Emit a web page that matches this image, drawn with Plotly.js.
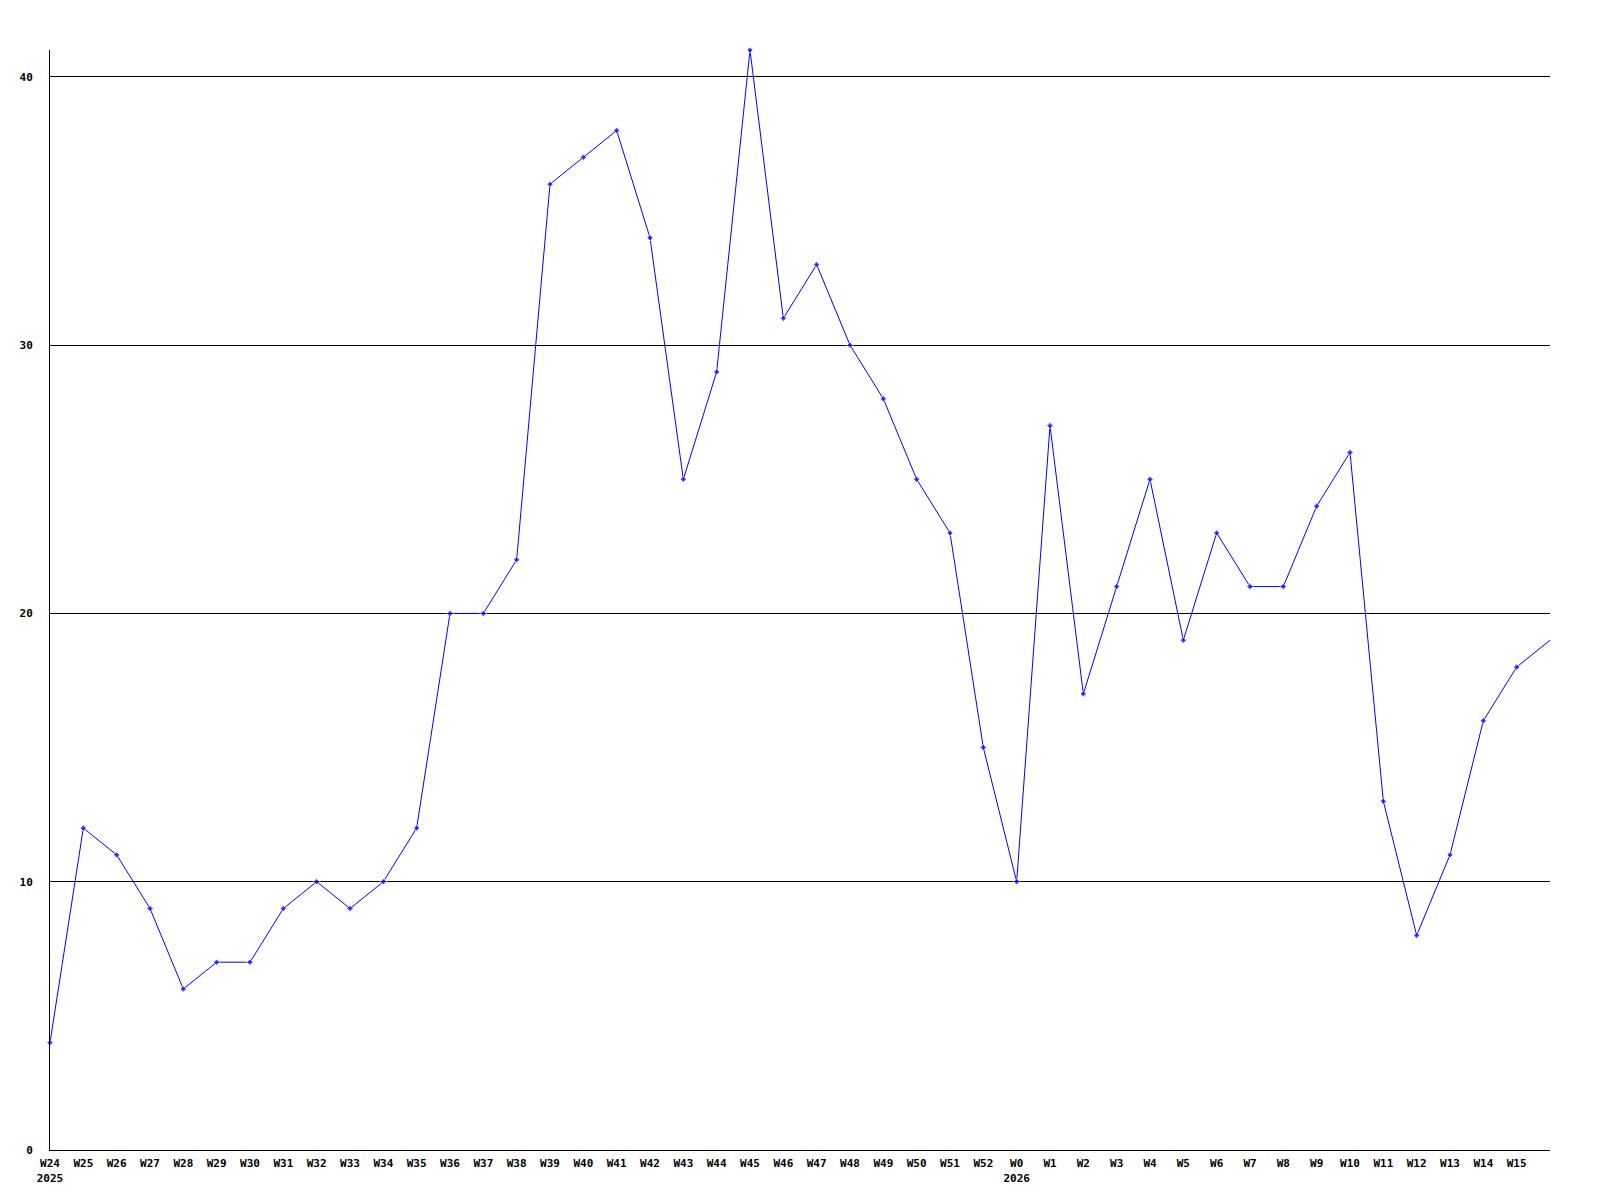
<!DOCTYPE html>
<html>
<head>
<meta charset="utf-8">
<script src="https://cdn.plot.ly/plotly-3.0.1.min.js"></script>
<style>html,body{margin:0;padding:0;background:#fff;}#chart{width:1600px;height:1200px;}</style>
</head>
<body>
<div id="chart"></div>
<script>
const weeks = ["W24","W25","W26","W27","W28","W29","W30","W31","W32","W33","W34","W35","W36","W37","W38","W39","W40","W41","W42","W43","W44","W45","W46","W47","W48","W49","W50","W51","W52","W0","W1","W2","W3","W4","W5","W6","W7","W8","W9","W10","W11","W12","W13","W14","W15","W16"];
const values = [4,12,11,9,6,7,7,9,10,9,10,12,20,20,22,36,37,38,34,25,29,41,31,33,30,28,25,23,15,10,27,17,21,25,19,23,21,21,24,26,13,8,11,16,18,19];
const yearLabels = {"W24":"2025","W0":"2026"};
const tickWeeks = weeks.slice(0, 45);
const tickText = tickWeeks.map(w => yearLabels[w] ? w + "<br>" + yearLabels[w] : w);
// last point sits on the clipped right edge: no visible marker there
const markerSizes = weeks.map((w, i) => i === weeks.length - 1 ? 0 : 5);

const font = {family: "DejaVu Sans Mono, monospace", size: 11, color: "#000", weight: "bold"};

Plotly.newPlot("chart", [{
  x: weeks,
  y: values,
  type: "scatter",
  mode: "lines+markers",
  line: {color: "#0000ff", width: 1},
  marker: {color: "#0000ff", size: markerSizes, symbol: "diamond"},
  cliponaxis: false,
  hoverinfo: "x+y"
}], {
  width: 1600, height: 1200,
  margin: {l: 50, r: 50, t: 50, b: 50},
  paper_bgcolor: "#fff", plot_bgcolor: "#fff",
  showlegend: false,
  font: font,
  xaxis: {
    type: "category",
    range: [0, 45],
    tickmode: "array",
    tickvals: tickWeeks,
    ticktext: tickText,
    showgrid: false,
    zeroline: false,
    showline: true, linecolor: "#000", linewidth: 1,
    ticks: "", tickfont: font, tickangle: 0,
    ticklabelstandoff: 3,
    automargin: false
  },
  yaxis: {
    range: [0, 41],
    tickvals: [0,10,20,30,40],
    showgrid: true, gridcolor: "#000", gridwidth: 1,
    zeroline: false,
    showline: true, linecolor: "#000", linewidth: 1,
    ticks: "", tickfont: font,
    ticklabelstandoff: 14,
    automargin: false
  }
}, {displayModeBar: false, staticPlot: true});
</script>
</body>
</html>
